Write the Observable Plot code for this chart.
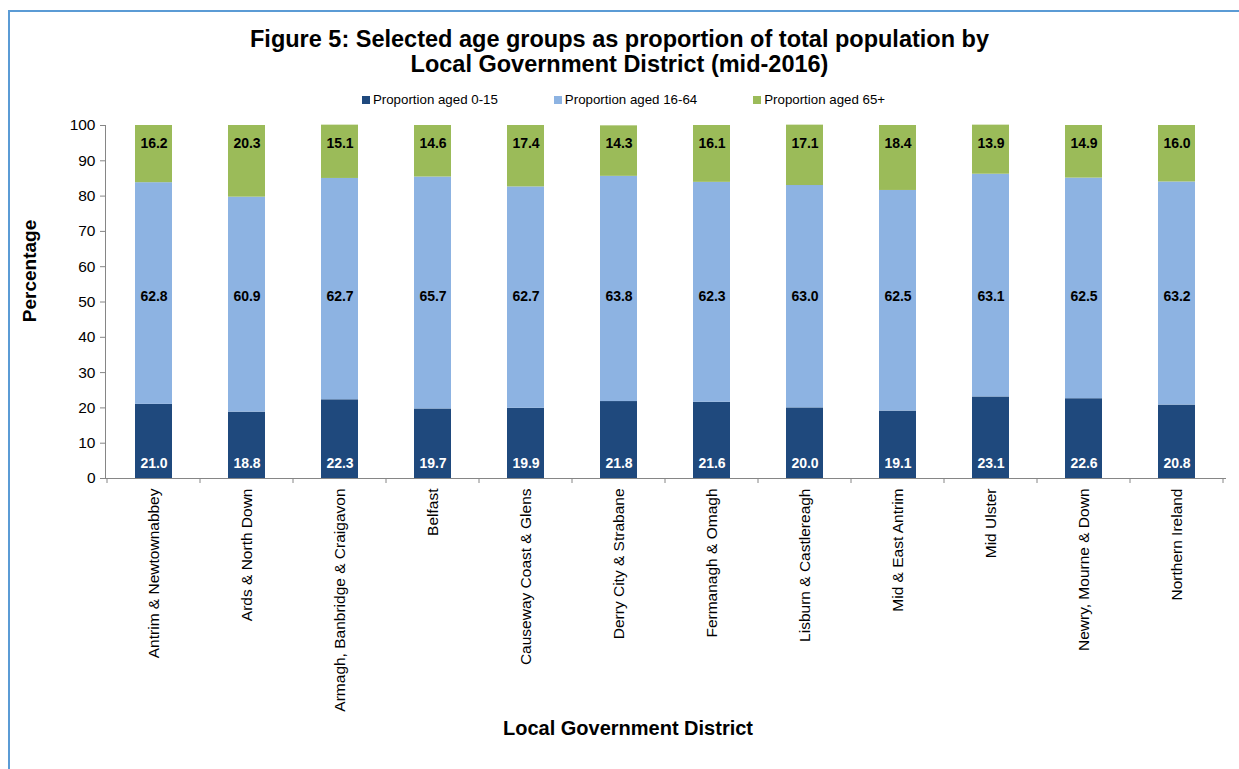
<!DOCTYPE html>
<html>
<head>
<meta charset="utf-8">
<script src="https://cdn.jsdelivr.net/npm/d3@7"></script>
<script src="https://cdn.jsdelivr.net/npm/@observablehq/plot@0.6"></script>
<style>
  html, body { margin: 0; padding: 0; background: #fff; overflow: hidden; }
  body { width: 1239px; height: 769px; position: relative; font-family: "Liberation Sans", Arial, sans-serif; }
  #frame { position: absolute; left: 8px; top: 10px; width: 1300px; height: 800px; border: 2px solid #5b9bd5; box-sizing: border-box; }
  #title { position: absolute; left: 0; width: 1239px; top: 27px; text-align: center; font-weight: bold; font-size: 23.5px; line-height: 25px; color: #000; }
  #legend { position: absolute; left: 4px; width: 1239px; top: 92px; display: flex; justify-content: center; gap: 56px; font-size: 13.3px; color: #000; }
  #legend .item { display: flex; align-items: center; }
  #legend .sw { width: 8px; height: 8px; margin-right: 3px; }
  #chart { position: absolute; left: 0; top: 110px; }
  #ylab { position: absolute; left: 30px; top: 271px; transform: translate(-50%, -50%) rotate(-90deg); font-weight: bold; font-size: 19px; white-space: nowrap; }
  #xlab { position: absolute; left: 628px; top: 728px; transform: translate(-50%, -50%); font-weight: bold; font-size: 20px; white-space: nowrap; }
</style>
</head>
<body>
<div id="frame"></div>
<div id="title">Figure 5: Selected age groups as proportion of total population by<br>Local Government District (mid-2016)</div>
<div id="legend"></div>
<div id="chart"></div>
<div id="ylab">Percentage</div>
<div id="xlab">Local Government District</div>
<script>
const districts = [
  "Antrim & Newtownabbey", "Ards & North Down", "Armagh, Banbridge & Craigavon", "Belfast",
  "Causeway Coast & Glens", "Derry City & Strabane", "Fermanagh & Omagh", "Lisburn & Castlereagh",
  "Mid & East Antrim", "Mid Ulster", "Newry, Mourne & Down", "Northern Ireland"
];
const seriesNames = ["Proportion aged 0-15", "Proportion aged 16-64", "Proportion aged 65+"];
const aged0to15  = [21.0, 18.8, 22.3, 19.7, 19.9, 21.8, 21.6, 20.0, 19.1, 23.1, 22.6, 20.8];
const aged16to64 = [62.8, 60.9, 62.7, 65.7, 62.7, 63.8, 62.3, 63.0, 62.5, 63.1, 62.5, 63.2];
const aged65plus = [16.2, 20.3, 15.1, 14.6, 17.4, 14.3, 16.1, 17.1, 18.4, 13.9, 14.9, 16.0];
const yTicks = [0, 10, 20, 30, 40, 50, 60, 70, 80, 90, 100];
const colors = ["#1f497d", "#8db3e2", "#9bbb59"];

const seriesValues = [aged0to15, aged16to64, aged65plus];
const rows = [];
districts.forEach((d, i) => {
  seriesNames.forEach((s, j) => rows.push({district: d, series: s, value: seriesValues[j][i]}));
});

// legend
const legend = document.getElementById("legend");
seriesNames.forEach((s, j) => {
  const it = document.createElement("div");
  it.className = "item";
  it.innerHTML = `<span class="sw" style="background:${colors[j]}"></span><span>${s}</span>`;
  legend.appendChild(it);
});

const fmt = d3.format(".1f");
const chart = Plot.plot({
  width: 1239,
  height: 640,
  marginTop: 15,
  marginBottom: 272,
  marginLeft: 105,
  marginRight: 14,
  style: {fontFamily: "'Liberation Sans', Arial, sans-serif", fontSize: "15.5px", color: "#000", background: "transparent"},
  x: {domain: districts, paddingInner: 0.6, paddingOuter: 0.3, label: null},
  y: {domain: [0, 100], label: null},
  color: {domain: seriesNames, range: colors},
  marks: [
    Plot.barY(rows, Plot.stackY({x: "district", y: "value", fill: "series", order: seriesNames})),
    Plot.frame({anchor: "left", stroke: "#868686"}),
    Plot.frame({anchor: "bottom", stroke: "#868686"}),
    Plot.axisY({ticks: yTicks, tickSize: 5, tickPadding: 5, stroke: "#868686", fill: "#000", label: null}),
    Plot.axisX({tickSize: 0, tickRotate: -90, tickPadding: 10, fill: "#000", label: null}),
    Plot.text(rows.filter(r => r.series === seriesNames[0]), {x: "district", y: 0, dy: -15, text: d => fmt(d.value), fill: "#fff", fontWeight: "bold", fontSize: 14}),
    Plot.text(rows.filter(r => r.series === seriesNames[1]), {x: "district", y: 50, dy: -5, text: d => fmt(d.value), fill: "#000", fontWeight: "bold", fontSize: 14}),
    Plot.text(rows.filter(r => r.series === seriesNames[2]), {x: "district", y: 100, dy: 18, text: d => fmt(d.value), fill: "#000", fontWeight: "bold", fontSize: 14})
  ]
});
document.getElementById("chart").appendChild(chart);

// boundary tick marks on the category axis
const xs = chart.scale("x");
const ys = chart.scale("y");
const gap = (xs.step - xs.bandwidth) / 2;
const bounds = districts.map(d => xs.apply(d) - gap);
bounds.push(xs.apply(districts[districts.length - 1]) + xs.bandwidth + gap);
const y0 = ys.apply(0);
d3.select(chart).append("g")
  .attr("stroke", "#868686")
  .selectAll("line").data(bounds).join("line")
  .attr("x1", d => d).attr("x2", d => d)
  .attr("y1", y0).attr("y2", y0 + 5);
</script>
</body>
</html>
